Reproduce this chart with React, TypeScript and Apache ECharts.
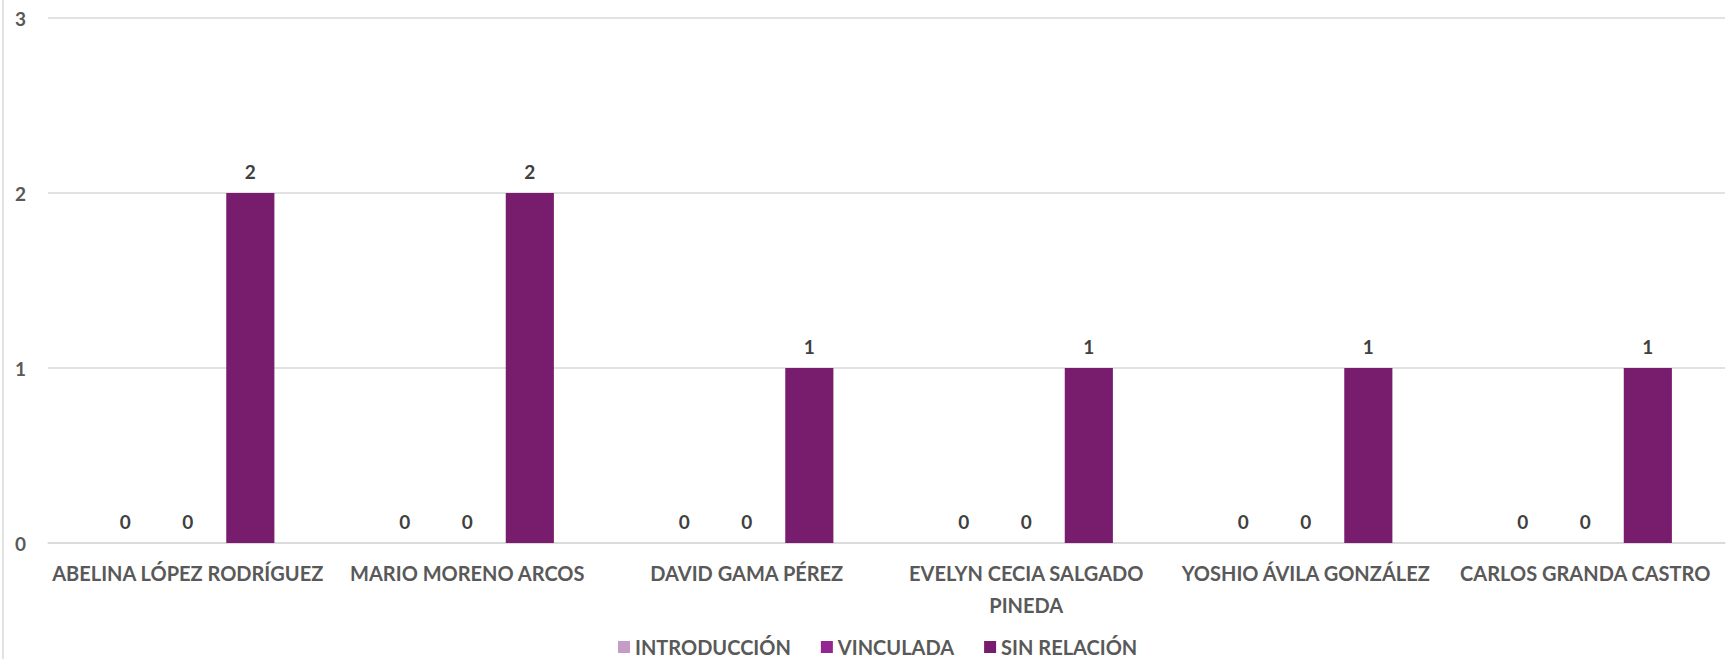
import React, { useEffect, useRef } from "react";
import * as echarts from "echarts";

const categories = [
  "ABELINA LÓPEZ RODRÍGUEZ",
  "MARIO MORENO ARCOS",
  "DAVID GAMA PÉREZ",
  "EVELYN CECIA SALGADO PINEDA",
  "YOSHIO ÁVILA GONZÁLEZ",
  "CARLOS GRANDA CASTRO",
];
const seriesNames = ["INTRODUCCIÓN", "VINCULADA", "SIN RELACIÓN"];
const introduccion = [0, 0, 0, 0, 0, 0];
const vinculada = [0, 0, 0, 0, 0, 0];
const sinRelacion = [2, 2, 1, 1, 1, 1];
const colors = ["#C59CC8", "#93278F", "#781C6E"];

const FONT = "Lato, 'Open Sans', sans-serif";

// wrap names with more than three words after the third word
const wrapName = (v: string) => {
  const w = v.split(" ");
  return w.length > 3 ? w.slice(0, 3).join(" ") + "\n" + w.slice(3).join(" ") : v;
};

export default function App() {
  const ref = useRef<HTMLDivElement>(null);
  useEffect(() => {
    document.body.style.margin = "0";
    const chart = echarts.init(ref.current!, null, { renderer: "svg" });
    const values = [introduccion, vinculada, sinRelacion];
    chart.setOption({
      animation: false,
      backgroundColor: "#ffffff",
      textStyle: { fontFamily: FONT },
      grid: { left: 48, right: 4, top: 18, bottom: 116, containLabel: false },
      legend: {
        bottom: 2,
        left: 618,
        padding: 0,
        itemWidth: 12,
        itemHeight: 12,
        itemGap: 30,
        icon: "rect",
        textStyle: { color: "#595959", fontSize: 20, fontWeight: "bold", fontFamily: FONT },
        data: seriesNames,
      },
      xAxis: {
        type: "category",
        data: categories,
        axisLine: { lineStyle: { color: "#D9D9D9", width: 1.5 } },
        axisTick: { show: false },
        axisLabel: {
          color: "#595959",
          fontSize: 20,
          fontWeight: "bold",
          fontFamily: FONT,
          margin: 14,
          lineHeight: 32,
          interval: 0,
          formatter: wrapName,
        },
      },
      yAxis: {
        type: "value",
        min: 0,
        max: 3,
        interval: 1,
        axisLine: { show: false },
        axisTick: { show: false },
        splitLine: { lineStyle: { color: "#D9D9D9", width: 1.5 } },
        axisLabel: {
          color: "#595959",
          fontSize: 19,
          fontWeight: "bold",
          fontFamily: FONT,
          margin: 22,
        },
      },
      graphic: [
        {
          type: "line",
          shape: { x1: 3, y1: 0, x2: 3, y2: 659 },
          style: { stroke: "#D9D9D9", lineWidth: 1.5 },
        },
      ],
      series: seriesNames.map((name, i) => ({
        name,
        type: "bar",
        data: values[i],
        barGap: "30%",
        barCategoryGap: "38%",
        itemStyle: { color: colors[i] },
        label: {
          show: true,
          position: "top",
          distance: 12,
          color: "#404040",
          fontSize: 19,
          fontWeight: "bold",
          fontFamily: FONT,
        },
      })),
    });
    return () => chart.dispose();
  }, []);
  return (
    <div
      ref={ref}
      style={{ position: "absolute", left: 0, top: 0, width: 1729, height: 659 }}
    />
  );
}
